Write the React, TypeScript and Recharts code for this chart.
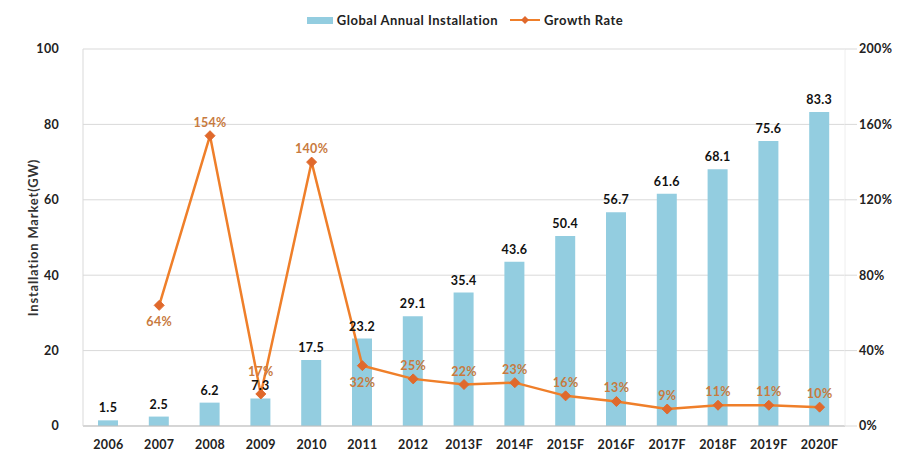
import React from "react";
import {
  Bar,
  CartesianGrid,
  ComposedChart,
  LabelList,
  Legend,
  Line,
  XAxis,
  YAxis,
} from "recharts";

const years = [
  "2006", "2007", "2008", "2009", "2010", "2011", "2012", "2013F",
  "2014F", "2015F", "2016F", "2017F", "2018F", "2019F", "2020F",
];
const installation = [1.5, 2.5, 6.2, 7.3, 17.5, 23.2, 29.1, 35.4, 43.6, 50.4, 56.7, 61.6, 68.1, 75.6, 83.3];
const growth = [null, 64, 154, 17, 140, 32, 25, 22, 23, 16, 13, 9, 11, 11, 10];
const leftTicks = [0, 20, 40, 60, 80, 100];
const rightTicks = [0, 40, 80, 120, 160, 200];
// growth labels drawn under the point instead of above
const labelsBelow = [1, 5];
// growth labels lifted higher (clear of the bar value under them)
const labelsRaised = [3];

const data = years.map((year, i) => ({
  year,
  installation: installation[i],
  growth: growth[i],
}));

const FONT = "Lato, 'Open Sans', sans-serif";
const BAR = "#93CDE0";
const LINE = "#EF7F2A";
const DOT = "#E0692C";
const LABEL_ORANGE = "#C87A3E";
const TEXT_STYLE = { fontFamily: FONT, fontWeight: 700, fontSize: 12.5, letterSpacing: 0.3 };

function Diamond(props: any) {
  const { cx, cy } = props;
  if (cx == null || cy == null || props.value == null) return null;
  const r = 5;
  return (
    <path
      d={`M${cx},${cy - r} L${cx + r},${cy} L${cx},${cy + r} L${cx - r},${cy} Z`}
      fill={DOT}
      stroke={DOT}
    />
  );
}

function GrowthLabel(props: any) {
  const { x, y, value, index } = props;
  if (value == null) return null;
  const below = labelsBelow.includes(index);
  const raised = labelsRaised.includes(index);
  return (
    <text
      x={x}
      y={below ? y + 21 : raised ? y - 18 : y - 9}
      textAnchor="middle"
      {...TEXT_STYLE}
      fill={LABEL_ORANGE}
    >
      {value}%
    </text>
  );
}

function LegendContent() {
  return (
    <div
      style={{
        display: "flex",
        justifyContent: "center",
        alignItems: "center",
        fontFamily: FONT,
        fontWeight: 700,
        fontSize: 13,
        letterSpacing: 0.5,
        color: "#222",
        gap: 12,
      }}
    >
      <span style={{ display: "flex", alignItems: "center" }}>
        <span style={{ width: 26, height: 7, background: BAR, marginRight: 4 }} />
        Global Annual Installation
      </span>
      <span style={{ display: "flex", alignItems: "center" }}>
        <svg width={30} height={10} style={{ marginRight: 4 }}>
          <line x1={0} y1={5} x2={30} y2={5} stroke={LINE} strokeWidth={2} />
          <path d="M15,1 L19,5 L15,9 L11,5 Z" fill={DOT} />
        </svg>
        Growth Rate
      </span>
    </div>
  );
}

export default function App() {
  return (
    <div style={{ position: "absolute", left: 0, top: 0, width: 915, height: 461, background: "#fff" }}>
      <ComposedChart
        width={915}
        height={461}
        data={data}
        margin={{ top: 12, right: 10, bottom: 5, left: 25 }}
      >
        <Legend verticalAlign="top" height={37} content={<LegendContent />} />
        <CartesianGrid vertical={false} stroke="#d9d9d9" yAxisId="left" />
        <XAxis
          dataKey="year"
          tick={{ fill: "#222", ...TEXT_STYLE }}
          tickLine={false}
          axisLine={{ stroke: "#bfbfbf" }}
          interval={0}
          height={30}
          tickMargin={8}
        />
        <YAxis
          yAxisId="left"
          domain={[0, 100]}
          ticks={leftTicks}
          tick={{ fill: "#222", ...TEXT_STYLE }}
          tickLine={false}
          axisLine={{ stroke: "#d9d9d9" }}
          width={58}
          tickMargin={18}
          label={{
            value: "Installation Market(GW)",
            angle: -90,
            position: "insideLeft",
            offset: 8,
            style: {
              textAnchor: "middle",
              fontFamily: FONT,
              fontWeight: 700,
              fontSize: 13,
              letterSpacing: 0.8,
              fill: "#333",
            },
          }}
        />
        <YAxis
          yAxisId="right"
          orientation="right"
          domain={[0, 200]}
          ticks={rightTicks}
          tickFormatter={(v) => `${v}%`}
          tick={{ fill: "#222", ...TEXT_STYLE }}
          tickLine={{ stroke: "#d9d9d9" }}
          tickSize={12}
          axisLine={{ stroke: "#eeeeee" }}
          width={60}
        />
        <Bar yAxisId="left" dataKey="installation" fill={BAR} barSize={20} isAnimationActive={false}>
          <LabelList
            dataKey="installation"
            position="top"
            offset={8}
            style={{ ...TEXT_STYLE, fill: "#111" }}
          />
        </Bar>
        <Line
          yAxisId="right"
          dataKey="growth"
          type="linear"
          stroke={LINE}
          strokeWidth={2.5}
          dot={<Diamond />}
          activeDot={false}
          connectNulls={false}
          isAnimationActive={false}
        >
          <LabelList dataKey="growth" content={<GrowthLabel />} />
        </Line>
      </ComposedChart>
    </div>
  );
}
